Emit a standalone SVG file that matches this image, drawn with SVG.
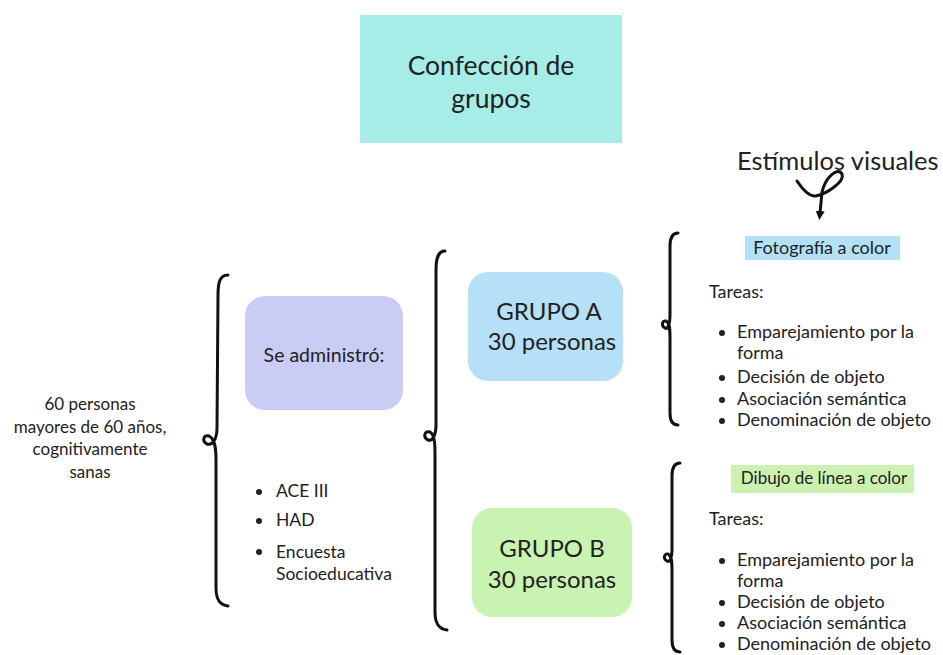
<svg xmlns="http://www.w3.org/2000/svg" width="943" height="655" viewBox="0 0 943 655">
<defs>
<style>
text{font-family:"Lato","Noto Sans","Liberation Sans",sans-serif;fill:#222;}
.t17{font-size:17px;}
.t18{font-size:18px;}
.grp{font-size:24px;text-anchor:middle;}
.brace{fill:none;stroke:#111;stroke-width:3;stroke-linecap:round;stroke-linejoin:round;}
</style>
<marker id="ah" markerWidth="9" markerHeight="9" refX="2" refY="4.5" orient="auto" markerUnits="userSpaceOnUse" viewBox="0 0 9 9">
<path d="M0 0 L9 4.5 L0 9 Z" fill="#111"/>
</marker>
</defs>
<rect width="943" height="655" fill="#fff"/>

<g id="titulo">
<rect x="360" y="15" width="262" height="128" fill="#a5ede6"/>
<text x="491" y="75" style="font-size:26.5px;text-anchor:middle">Confección de</text>
<text x="491" y="108" style="font-size:26.5px;text-anchor:middle">grupos</text>
</g>

<g id="estimulos">
<text x="737" y="170" style="font-size:25.5px">Estímulos visuales</text>
</g>

<g id="poblacion">
<text class="t17" x="90" y="410" text-anchor="middle">60 personas</text>
<text class="t17" x="90" y="433" text-anchor="middle">mayores de 60 años,</text>
<text class="t17" x="90" y="455" text-anchor="middle">cognitivamente</text>
<text class="t17" x="90" y="478" text-anchor="middle">sanas</text>
</g>

<g id="administro">
<rect x="245" y="296" width="158" height="114" rx="20" fill="#c9cdf6"/>
<text x="324" y="362" style="font-size:19.5px;text-anchor:middle">Se administró:</text>
</g>

<g id="pruebas">
<circle cx="259" cy="492" r="3" fill="#222"/>
<text x="276" y="497" style="font-size:17.5px">ACE III</text>
<circle cx="259" cy="521" r="3" fill="#222"/>
<text x="276" y="526" style="font-size:17.5px">HAD</text>
<circle cx="259" cy="552" r="3" fill="#222"/>
<text x="276" y="558" style="font-size:17.5px">Encuesta</text>
<text x="276" y="580" style="font-size:17.5px">Socioeducativa</text>
</g>

<g id="grupoA">
<rect x="468" y="272" width="155" height="109" rx="20" fill="#b5e0f8"/>
<text class="grp" x="549" y="320">GRUPO A</text>
<text class="grp" x="552" y="350">30 personas</text>
</g>

<g id="grupoB">
<rect x="472" y="508" width="160" height="109" rx="20" fill="#c9f3b0"/>
<text class="grp" x="552" y="557">GRUPO B</text>
<text class="grp" x="552" y="588">30 personas</text>
</g>

<g id="fotografia">
<rect x="745" y="236" width="155" height="24" fill="#b3e1f7"/>
<text x="822" y="254" style="font-size:18px;text-anchor:middle">Fotografía a color</text>
</g>

<g id="tareasA">
<text class="t18" x="709" y="298">Tareas:</text>
<circle cx="722" cy="333" r="3" fill="#222"/>
<text class="t18" x="737" y="338">Emparejamiento por la</text>
<text class="t18" x="737" y="359">forma</text>
<circle cx="722" cy="378" r="3" fill="#222"/>
<text class="t18" x="737" y="383">Decisión de objeto</text>
<circle cx="722" cy="400" r="3" fill="#222"/>
<text class="t18" x="737" y="405">Asociación semántica</text>
<circle cx="722" cy="421" r="3" fill="#222"/>
<text class="t18" x="737" y="426">Denominación de objeto</text>
</g>

<g id="dibujo">
<rect x="731" y="465" width="183" height="28" fill="#cdf1b0"/>
<text x="824" y="484" style="font-size:17px;text-anchor:middle">Dibujo de línea a color</text>
</g>

<g id="tareasB">
<text class="t18" x="709" y="525">Tareas:</text>
<circle cx="722" cy="561" r="3" fill="#222"/>
<text class="t18" x="737" y="566">Emparejamiento por la</text>
<text class="t18" x="737" y="587">forma</text>
<circle cx="722" cy="603" r="3" fill="#222"/>
<text class="t18" x="737" y="608">Decisión de objeto</text>
<circle cx="722" cy="624" r="3" fill="#222"/>
<text class="t18" x="737" y="629">Asociación semántica</text>
<circle cx="722" cy="645" r="3" fill="#222"/>
<text class="t18" x="737" y="650">Denominación de objeto</text>
</g>

<g id="conectores">
<path class="brace" d="M228 275 C220 275 218 282 218 295 L217 428 C217 438 213 446 207 444 C202 442 203 434 209 436 C215 439 216 448 216 460 L216 588 C216 600 220 605 228 606"/>
<path class="brace" d="M445 251 C438 251 436 258 436 270 L436 425 C436 434 433 442 428 440 C423 438 424 430 430 432 C435 435 435 445 435 455 L435 612 C435 624 439 629 447 630"/>
<path class="brace" d="M678 233 C672 233 670 238 670 246 L670 316 C670 323 668 330 665 328 C661 326 662 320 666 321 C670 323 670 330 670 338 L670 413 C670 421 673 425 678 425"/>
<path class="brace" d="M680 463 C674 463 672 468 672 476 L672 550 C672 557 670 563 667 561 C663 559 664 553 668 554 C672 556 672 563 672 571 L672 640 C672 648 675 652 680 652"/>
<path class="brace" d="M797 181 C803 190 809 197 816 196 C826 194 845 182 842 174 C838 167 826 176 822 192 L820 213" marker-end="url(#ah)"/>
</g>
</svg>
